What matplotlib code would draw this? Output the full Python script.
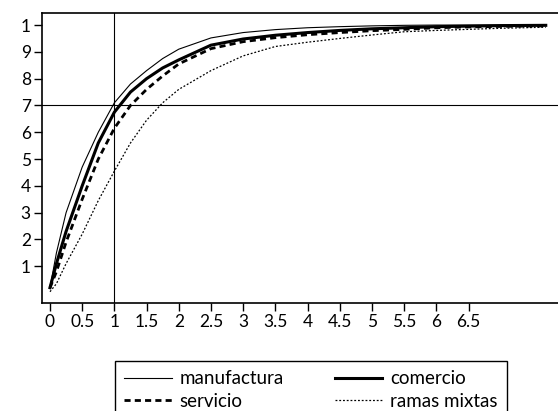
import numpy as np
import matplotlib
matplotlib.use('Agg')
import matplotlib.pyplot as plt

# --- DATA
x = [0, 0.1, 0.25, 0.5, 0.75, 1, 1.25, 1.5, 1.75, 2, 2.5, 3, 3.5, 4, 4.5, 5, 5.5, 6, 6.5, 7, 7.7]
manufactura = [0.02, 0.15, 0.30, 0.47, 0.60, 0.71, 0.78, 0.83, 0.875, 0.91, 0.952, 0.972, 0.983, 0.99,
               0.994, 0.997, 0.999, 1.0, 1.0, 1.0, 1.0]
comercio = [0.02, 0.11, 0.23, 0.40, 0.56, 0.675, 0.75, 0.80, 0.84, 0.87, 0.925, 0.948, 0.962, 0.972,
            0.98, 0.986, 0.99, 0.994, 0.996, 0.998, 0.999]
servicio = [0.02, 0.08, 0.19, 0.35, 0.50, 0.615, 0.70, 0.76, 0.81, 0.855, 0.912, 0.938, 0.953, 0.964,
            0.972, 0.979, 0.984, 0.99, 0.993, 0.995, 0.997]
ramas = [0.005, 0.035, 0.11, 0.22, 0.345, 0.455, 0.56, 0.645, 0.71, 0.76, 0.83, 0.885, 0.92, 0.936,
         0.95, 0.963, 0.975, 0.98, 0.984, 0.988, 0.992]

xticks = [0, 0.5, 1, 1.5, 2, 2.5, 3, 3.5, 4, 4.5, 5, 5.5, 6, 6.5]
xticklabels = ["0", "0.5", "1", "1.5", "2", "2.5", "3", "3.5", "4", "4.5", "5", "5.5", "6", "6.5"]
yticks = [0.1, 0.2, 0.3, 0.4, 0.5, 0.6, 0.7, 0.8, 0.9, 1.0]
yticklabels = ["1", "2", "3", "4", "5", "6", "7", "8", "9", "1"]

plt.rcParams['font.family'] = ['Lato', 'DejaVu Sans']

fig = plt.figure(figsize=(5.58, 4.11), dpi=100)
ax = fig.add_axes([42/558, 1-303/411, 1-42/558, (303-13)/411])

ax.plot(x, manufactura, color='k', lw=0.8, label='manufactura')
ax.plot(x, servicio, color='k', lw=2.0, ls=(0, (2.2, 1.5)), label='servicio')
ax.plot(x, comercio, color='k', lw=2.2, label='comercio')
ax.plot(x, ramas, color='k', lw=0.9, ls=(0, (1.5, 1.5)), label='ramas mixtas')

ax.axvline(1, color='k', lw=0.8)
ax.axhline(0.7, color='k', lw=0.8)

ax.set_xlim(-0.124, 7.89)
ax.set_ylim(-0.037, 1.045)
ax.set_xticks(xticks)
ax.set_xticklabels(xticklabels)
ax.set_yticks(yticks)
ax.set_yticklabels(yticklabels)
ax.tick_params(direction='out', length=6, width=1, labelsize=12.5, pad=2)
ax.spines['right'].set_visible(False)
for s in ['left', 'bottom', 'top']:
    ax.spines[s].set_linewidth(1.2)

fig.legend(loc='upper left', bbox_to_anchor=(115/558, 1-361/411), ncol=2, fontsize=13.5,
           frameon=True, fancybox=False, edgecolor='k', framealpha=1, borderaxespad=0,
           handlelength=2.55, handletextpad=0.4, columnspacing=2.7, borderpad=0.5,
           labelspacing=0.3)

plt.savefig("out.png", dpi=100)
